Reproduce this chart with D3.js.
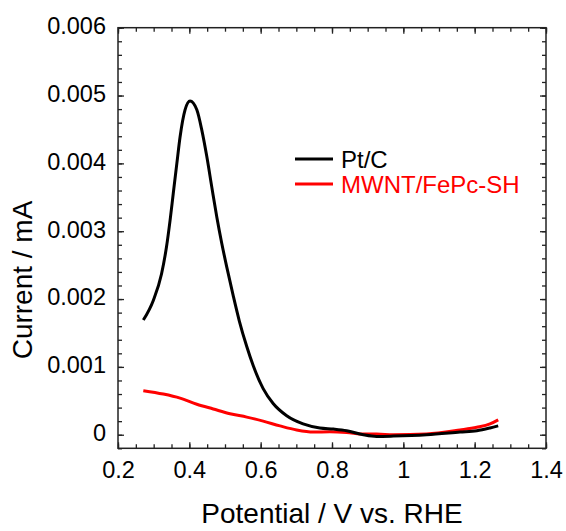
<!DOCTYPE html>
<html>
  <head>
    <meta charset="utf-8">
    <title>Pt/C vs MWNT/FePc-SH</title>
    <script src="https://d3js.org/d3.v7.min.js"></script>
    <style>
      body { margin: 0; background: #fff; }
      text { font-family: "Liberation Sans", Arial, sans-serif; }
    </style>
  </head>
  <body>
    <script>
      // Pt/C curve (potential in V, current in mA)
      var ptcX = [0.271, 0.299, 0.322, 0.336, 0.346, 0.355, 0.365, 0.374, 0.388, 0.402,
                  0.421, 0.435, 0.449, 0.463, 0.477, 0.491, 0.505, 0.523, 0.540, 0.561,
                  0.579, 0.607, 0.635, 0.673, 0.719, 0.766, 0.804, 0.841, 0.888, 0.925,
                  0.972, 1.065, 1.159, 1.206, 1.243, 1.266];
      var ptcY = [0.00169, 0.00198, 0.00237, 0.00277, 0.00316, 0.00356, 0.0040, 0.00439, 0.00479, 0.00492,
                  0.00479, 0.00449, 0.0041, 0.00365, 0.00321, 0.00282, 0.00247, 0.00205, 0.00168, 0.00130,
                  0.00102, 0.00068, 0.00046, 0.00028, 0.00016, 0.0001, 0.000084, 0.00006, 0.0, -0.000025,
                  -0.00002, 0.0, 0.00004, 0.00006, 0.0001, 0.00013];

      // MWNT/FePc-SH curve
      var fepcX = [0.271, 0.327, 0.374, 0.421, 0.467, 0.514, 0.561, 0.607, 0.654, 0.701,
                   0.748, 0.794, 0.841, 0.888, 0.925, 0.972, 1.065, 1.159, 1.206, 1.243, 1.266];
      var fepcY = [0.00065, 0.0006, 0.00054, 0.00045, 0.00038, 0.00031, 0.00026, 0.0002, 0.00013, 0.00007,
                   0.00004, 0.000044, 0.000034, 0.00001, 0.00001, 0.0, 0.00001, 0.00007, 0.00011, 0.00016, 0.00022];

      var xTicks = [0.2, 0.4, 0.6, 0.8, 1.0, 1.2, 1.4];
      var xTickLabels = ["0.2", "0.4", "0.6", "0.8", "1", "1.2", "1.4"];
      var yTicks = [0, 0.001, 0.002, 0.003, 0.004, 0.005, 0.006];
      var yTickLabels = ["0", "0.001", "0.002", "0.003", "0.004", "0.005", "0.006"];

      var seriesNames = ["Pt/C", "MWNT/FePc-SH"];
      var seriesColors = ["#000000", "#ff0000"];

      var width = 566;
      var height = 531;
      var margin = { top: 27.7, right: 20, bottom: 82.7, left: 118 };

      var svg = d3.select("body").append("svg").attr("width", width).attr("height", height);

      var xScale = d3.scaleLinear()
        .domain([0.2, 1.4])
        .range([margin.left, width - margin.right]);

      var yScale = d3.scaleLinear()
        .domain([-0.0002, 0.006])
        .range([height - margin.bottom, margin.top]);

      var x0 = xScale.range()[0], x1 = xScale.range()[1];
      var y0 = yScale.range()[0], y1 = yScale.range()[1];

      var xMinor = d3.range(0.2, 1.4001, 0.05);
      var yMinor = d3.range(-0.0002, 0.00601, 0.0002);

      // minor ticks (all four sides, pointing in)
      svg.append("g").attr("transform", "translate(0," + y0 + ")")
        .call(d3.axisBottom(xScale).tickValues(xMinor).tickSize(-4).tickFormat(""));
      svg.append("g").attr("transform", "translate(0," + y1 + ")")
        .call(d3.axisTop(xScale).tickValues(xMinor).tickSize(-4).tickFormat(""));
      svg.append("g").attr("transform", "translate(" + x0 + ",0)")
        .call(d3.axisLeft(yScale).tickValues(yMinor).tickSize(-4).tickFormat(""));
      svg.append("g").attr("transform", "translate(" + x1 + ",0)")
        .call(d3.axisRight(yScale).tickValues(yMinor).tickSize(-4).tickFormat(""));

      // major ticks
      var axisX = d3.axisBottom(xScale).tickValues(xTicks).tickSize(-6).tickPadding(14)
        .tickFormat(function(d, i) { return xTickLabels[i]; });
      var gx = svg.append("g").attr("class", "xaxis").attr("transform", "translate(0," + y0 + ")").call(axisX);

      svg.append("g").attr("transform", "translate(0," + y1 + ")")
        .call(d3.axisTop(xScale).tickValues(xTicks).tickSize(-6).tickFormat(""));

      var axisY = d3.axisLeft(yScale).tickValues(yTicks).tickSize(-6).tickPadding(12)
        .tickFormat(function(d, i) { return yTickLabels[i]; });
      var gy = svg.append("g").attr("class", "yaxis").attr("transform", "translate(" + x0 + ",0)").call(axisY);

      svg.append("g").attr("transform", "translate(" + x1 + ",0)")
        .call(d3.axisRight(yScale).tickValues(yTicks).tickSize(-6).tickFormat(""));

      svg.selectAll(".domain").remove();
      svg.selectAll(".tick line").attr("stroke", "#222").attr("stroke-width", 1.3);
      svg.selectAll(".tick text").attr("fill", "#000").style("font-size", "23.5px");
      gy.selectAll(".tick text").attr("dy", "0.25em");
      gx.selectAll(".tick text").attr("dy", "0.66em");

      // frame
      svg.append("rect")
        .attr("x", x0).attr("y", y1)
        .attr("width", x1 - x0).attr("height", y0 - y1)
        .attr("fill", "none").attr("stroke", "#222").attr("stroke-width", 1.5);

      // curves
      var line = d3.line()
        .x(function(d) { return xScale(d[0]); })
        .y(function(d) { return yScale(d[1]); })
        .curve(d3.curveMonotoneX);

      var series = [
        d3.zip(ptcX, ptcY),
        d3.zip(fepcX, fepcY)
      ];

      // red drawn first, black on top in lower region like the original
      svg.append("path").datum(series[1])
        .attr("d", line).attr("fill", "none")
        .attr("stroke", seriesColors[1]).attr("stroke-width", 3);
      svg.append("path").datum(series[0])
        .attr("d", line).attr("fill", "none")
        .attr("stroke", seriesColors[0]).attr("stroke-width", 3);

      // legend
      var legend = svg.append("g");
      seriesNames.forEach(function(name, i) {
        var ly = 159 + i * 25;
        legend.append("line")
          .attr("x1", 295).attr("x2", 333).attr("y1", ly).attr("y2", ly)
          .attr("stroke", seriesColors[i]).attr("stroke-width", 3);
        legend.append("text")
          .attr("x", 341).attr("y", ly).attr("dy", "0.36em")
          .attr("fill", seriesColors[i])
          .style("font-size", "24px")
          .text(name);
      });

      // axis titles
      svg.append("text")
        .attr("x", (x0 + x1) / 2).attr("y", 523)
        .attr("text-anchor", "middle")
        .style("font-size", "28px")
        .text("Potential / V vs. RHE");

      svg.append("text")
        .attr("transform", "translate(32," + ((y0 + y1) / 2 + 42) + ") rotate(-90)")
        .attr("text-anchor", "middle")
        .style("font-size", "28px")
        .text("Current / mA");
    </script>
  </body>
</html>
